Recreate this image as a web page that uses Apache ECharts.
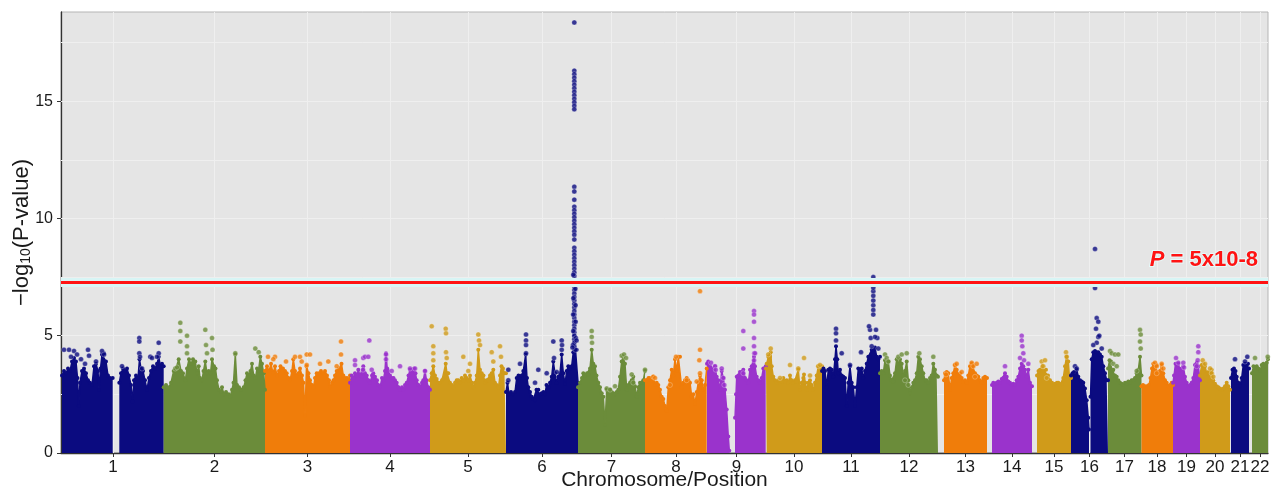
<!DOCTYPE html>
<html><head><meta charset="utf-8">
<script src="https://cdn.jsdelivr.net/npm/echarts@6/dist/echarts.min.js"></script>
<style>html,body{margin:0;padding:0;background:#fff}#c{width:1271px;height:493px}</style>
</head><body><div id="c"></div>
<script>
// Genome position unit: bins (~2.4 Mb each), cumulative along chromosomes 1..22
const chromNames = ['1','2','3','4','5','6','7','8','9','10','11','12','13','14','15','16','17','18','19','20','21','22'];
const chromStart = [1,103,204,289,369,445,517,584,646,705,761,819,883,931,976,1010,1047,1080,1112,1139,1170,1191];
const chromEnd   = [103,204,289,369,445,517,584,646,705,761,819,877,926,971,1010,1047,1080,1112,1139,1169,1188,1207];
const yTicks = [0,5,10,15];
const gridY = [2.5,5,7.5,10,12.5,15,17.5];
const threshold = 7.3; // -log10(5e-8)

// Upper envelope of the dense point cloud per chromosome ([position, -log10 P]); null separates arms
const chr1 = [[1,3.3],[3,3.5],[5,3.4],[7,3.6],[9,3.5],[11,3.9],[13,4.05],[15,3.9],[16.5,3.2],[17.7,2.0],[19,3.0],[21,3.5],[23,3.6],[25,3.4],[27,3.1],[29,3.0],[31,2.9],[33,3.7],[35,3.8],[37,3.5],[38,2.7],[39.5,3.6],[41,4.2],[43,4.25],[45,3.9],[47,3.3],[49,3.2],[51.7,3.2],
  null,[58.3,3.0],[60,3.4],[62,3.6],[64,3.5],[66,3.6],[68,3.3],[70,2.9],[71.5,2.2],[73,3.1],[75,3.3],[77,3.2],[78.5,4.0],[80,3.6],[82,3.5],[84,3.1],[86,2.7],[88,3.2],[90,3.5],[92,3.7],[94,3.6],[96,3.8],[97.7,4.1],[99.5,3.7],[101,3.8],[102.7,3.7]];
const chr2 = [[102.7,2.8],[105,2.9],[108,2.8],[110,3.0],[112.7,3.5],[115,3.6],[117.7,4.0],[120,3.5],[122,3.4],[124.3,3.1],[126,3.6],[128,4.0],[130,3.8],[132,4.0],[134.3,3.9],[136,3.4],[137.7,3.7],[139,3.2],[141,3.1],[142.5,3.5],[144.3,3.9],[146,3.4],[147.7,3.5],[149.5,3.4],[151,4.0],[153,3.7],[154.5,3.6],[156,3.1],[158,2.7],[160,2.6],[161,2.8],[163,2.5],[165,2.6],[167.7,2.5],[169.3,2.4],[171,2.7],[172.5,3.0],[174.3,4.2],[176,2.9],[178,2.8],[180,2.7],[182.7,2.8],[184.5,3.1],[186,3.4],[188,3.3],[189.5,3.5],[191,3.8],[192.7,3.3],[194.5,3.2],[196,3.6],[197.5,3.5],[199.3,4.1],[201,3.8],[202.7,3.4],[204,2.7]];
const chr3 = [[204,3.5],[206,3.7],[208,3.5],[210,3.8],[212,3.4],[214,3.7],[216,3.3],[218,3.5],[219.5,3.7],[222,3.6],[224,3.5],[225.7,3.4],[227.5,3.2],[229,3.1],[231,3.5],[232.3,4.0],[234,3.5],[235.7,3.3],[237.5,3.4],[239,3.6],[241,3.3],[242.5,3.0],[244,1.6],[245.5,3.7],[247.5,3.4],[249,3.1],[251,2.9],[252.5,2.8],[254,3.2],[255.7,3.4],[258,3.4],[260,3.5],[262,3.4],[264,3.5],[266,3.3],[268,3.1],[269,2.8],[271,3.0],[272.5,3.1],[274,3.3],[275.7,3.5],[278,3.6],[280.5,3.8],[282.3,3.3],[284,3.2],[286,3.2],[287.5,3.1],[289,3.3]];
const chr4 = [[289,3.0],[290.7,3.3],[292.5,3.2],[294,3.4],[296,3.3],[297.3,3.55],[299,3.3],[300.7,3.25],[302.3,3.7],[304,3.4],[305.7,3.3],[307.5,3.1],[309,3.0],[311,3.3],[312.3,3.4],[314,3.25],[316,3.1],[317.3,2.9],[319,2.8],[321,3.2],[322.3,3.1],[324,3.5],[325,4.25],[326.2,3.6],[327.3,3.5],[329,3.3],[330.7,3.2],[332.5,3.2],[334,3.1],[335.7,3.0],[337.5,2.8],[339,2.7],[341,2.8],[342.3,2.7],[344,2.9],[345.7,3.0],[347.5,3.3],[349,3.55],[351,3.5],[353,3.6],[354.5,3.4],[355.7,3.1],[357.5,2.9],[359,2.8],[361,3.0],[362.3,3.1],[364,3.5],[365.5,3.1],[367.3,2.8],[369,2.7]];
const chr5 = [[369,3.1],[370.7,3.4],[372.3,3.7],[374,3.3],[375.7,3.15],[377.5,3.0],[379,3.0],[381,3.1],[382.3,3.15],[384.7,3.8],[386,3.4],[387.3,3.4],[389,3.0],[391,2.9],[392.3,2.8],[394,3.0],[395.7,3.1],[397.3,3.1],[399,3.0],[400.7,3.2],[402.5,3.1],[404,3.3],[405.7,3.2],[407.5,3.1],[409,3.3],[411,3.0],[412.3,2.8],[414,3.0],[415.7,3.3],[417.3,4.4],[419,3.55],[420.7,3.4],[422.5,3.3],[424,3.0],[425.5,3.1],[427.3,3.1],[429,3.3],[430.7,3.4],[432.3,3.55],[434,3.0],[435.7,2.9],[437.5,2.8],[439,3.3],[440.5,3.7],[442,3.6],[443.5,3.4],[445,3.4]];
const chr6 = [[445,2.6],[446.5,3.0],[448,2.5],[450,2.6],[452,2.5],[454,2.6],[455.7,3.2],[457.5,3.3],[459,3.2],[460.7,3.3],[462.3,3.5],[464.7,4.2],[466,3.2],[467.3,2.8],[469,2.6],[470.7,2.4],[472.5,2.3],[474,2.25],[475.5,2.7],[477.3,2.7],[479,2.5],[480.7,2.55],[482.5,2.6],[484,2.5],[485.5,2.9],[487.3,2.8],[489,3.0],[490.7,3.25],[492.3,3.9],[494,3.4],[495.5,3.0],[497.3,3.25],[499,3.4],[500.7,4.2],[502.3,3.4],[504,2.95],[505.7,3.5],[507.3,3.7],[509,3.6],[510.7,3.7],[512.3,4.3],[513.3,5.0],[514.5,4.4],[515.7,4.4],[517,3.0]];
const chr7 = [[517,2.8],[519,3.0],[521,3.2],[522.3,3.4],[524,3.3],[526,3.4],[527.3,3.35],[529,3.6],[530.7,4.4],[532.3,3.8],[534,3.7],[535.5,3.3],[537.3,3.0],[539,2.8],[540.7,2.55],[542.3,2.4],[544,1.2],[545.7,2.7],[547.5,2.7],[549,2.7],[550.7,2.6],[552.3,2.55],[554,2.5],[555.7,2.6],[557.3,2.7],[559,3.25],[560.7,3.9],[562.3,4.1],[564,3.8],[565.7,2.7],[567.3,2.9],[569,3.0],[570.7,3.1],[572.3,3.25],[574,2.85],[575.7,2.4],[577.3,2.8],[579,3.0],[580.7,3.0],[582.3,3.1],[584,3.5]];
const chr8 = [[584,3.1],[585.7,3.1],[587.5,3.2],[589,3.2],[590.7,3.1],[592.3,3.25],[594,2.9],[595.7,3.0],[597.3,2.9],[599,2.7],[600.7,2.4],[602.3,2.3],[604,2.0],[605.7,1.8],[607.3,2.8],[609,3.1],[610.7,3.55],[612.3,3.3],[614,4.0],[615.7,3.5],[617.3,4.1],[619,4.1],[620.7,2.8],[622.3,3.0],[624,3.1],[625.7,3.2],[627.3,3.1],[629,3.0],[630.7,2.4],[632.3,2.5],[634,2.1],[635.7,2.6],[637.3,3.0],[639,3.3],[640.7,3.1],[642.3,2.7],[644,2.9],[645.7,3.6]];
const chr9 = [[646,3.8],[647.3,3.9],[649,3.7],[650.7,3.6],[652.3,3.55],[654,3.7],[655.7,3.25],[657.3,3.1],[659,2.7],[660.7,3.5],[662.3,3.2],[664,2.7],[665.7,1.85],[667.3,0.7],[668.3,0.1],
  null,[674,1.5],[675,2.5],[675.7,3.25],[677.3,3.3],[679,3.45],[680.7,3.4],[682.3,3.55],[684,3.2],[685.7,3.1],[687.3,3.0],[689,3.55],[690.7,3.7],[692.3,3.7],[693,4.1],[694,3.7],[695.7,3.25],[697.3,3.1],[699,3.0],[700.7,3.2],[702.3,3.6],[704.7,3.7]];
const chr10 = [[705,3.6],[705.7,3.8],[707.3,4.1],[709,4.1],[709.7,4.3],[710.7,3.7],[712.3,3.25],[714,3.1],[715.7,3.0],[717.3,3.1],[719,3.1],[720.7,3.05],[722.3,3.2],[724,3.05],[725.7,3.1],[727.3,3.0],[729,3.3],[730.7,3.1],[732.3,3.0],[734,3.1],[735.7,3.05],[737.3,3.55],[739,2.7],[740.7,3.0],[742.3,3.2],[743,3.35],[744.3,3.0],[745.7,2.7],[747.3,3.0],[749,3.1],[750.7,2.9],[752.3,2.7],[754,3.0],[755.7,3.3],[757.3,3.7],[759,3.6],[761,3.7]];
const chr11 = [[761,3.5],[762.5,3.6],[764,3.5],[765.7,2.8],[767.3,3.55],[769,3.6],[770.7,3.55],[772.3,3.25],[774,4.0],[775,4.55],[776.3,4.0],[777.3,3.4],[779,3.55],[780.7,3.3],[782.3,3.25],[784,3.2],[785.7,2.0],[787.3,3.0],[789,3.7],[790.7,3.0],[792.3,2.8],[794,2.0],[795.7,2.8],[797.3,3.6],[799,3.5],[800.7,3.6],[802.3,3.2],[804,3.5],[805.7,3.8],[807.3,4.1],[809,4.1],[810.7,4.4],[812.3,4.4],[814,4.5],[815.7,4.1],[817.3,4.0],[819,4.1]];
const chr12 = [[819,3.4],[820.7,3.5],[822.3,3.4],[824,3.95],[825.7,3.7],[827.3,3.9],[829,3.3],[830.7,3.1],[832.3,3.05],[834,3.4],[835.7,4.0],[837.3,3.8],[839,4.0],[840.7,3.8],[842.3,3.3],[844,3.5],[845.7,3.9],[847.3,3.1],[849,2.55],[850.7,2.8],[852.3,3.0],[854,3.1],[855.7,3.4],[857.3,4.1],[859,4.0],[860.7,3.7],[862.3,3.4],[864,3.1],[865.7,3.1],[867.3,3.0],[869,3.2],[870.7,3.3],[872.3,3.8],[874,3.55],[875.7,3.3],[877,3.25]];
const chr13 = [[883,3.1],[884,3.4],[885.7,3.45],[887.3,3.4],[889,2.7],[890.7,3.2],[892.3,3.4],[894,3.75],[895.7,3.55],[897.3,3.3],[899,3.4],[900.7,3.2],[902.3,3.05],[904,3.1],[905.7,3.0],[907.3,3.3],[909,3.7],[910.7,3.8],[912.3,3.75],[914,3.4],[915.7,3.3],[917.3,3.25],[919,3.1],[920.7,3.0],[922.3,3.2],[924,3.25],[926,3.2]];
const chr14 = [[931,2.9],[932.3,3.0],[934,2.95],[935.7,3.0],[937.3,3.05],[939,3.0],[940.7,3.15],[942.3,3.2],[944,3.4],[945.7,3.25],[947.3,3.05],[949,3.0],[950.7,2.9],[952.3,2.95],[954,2.9],[955.7,3.1],[957.3,3.25],[959,3.6],[960.7,3.8],[962.3,3.7],[964,3.55],[965.7,3.25],[967.3,3.55],[969,3.0],[971,2.85]];
const chr15 = [[976,3.3],[977.5,3.5],[979,3.55],[981,3.6],[983,3.5],[985,3.55],[987,3.3],[989,3.1],[991,3.0],[993,2.9],[994,2.95],[996,3.0],[997.3,3.0],[999,2.9],[1000.7,2.95],[1002.3,3.2],[1004,3.7],[1005.5,4.1],[1007.3,3.9],[1008.3,3.3],[1010,3.2]];
const chr16 = [[1010,3.3],[1011.5,3.4],[1013,3.45],[1014.5,3.3],[1015.7,3.55],[1017.3,3.25],[1019,3.1],[1020.7,3.05],[1022.3,3.0],[1024,2.75],[1025.7,2.25],[1027.3,1.5],[1028,1.0],
  null,[1029.5,2.4],[1030.7,4.0],[1032.3,4.3],[1034,4.35],[1035.7,4.3],[1037.3,4.3],[1039,4.2],[1040.7,4.1],[1042.3,3.7],[1044,3.4],[1045.7,3.1],[1047,3.1]];
const chr17 = [[1047,3.6],[1048.5,3.95],[1050,3.9],[1051.5,3.5],[1052.3,3.55],[1054,3.3],[1055.7,3.25],[1057.3,3.1],[1059,3.0],[1060.7,2.95],[1062.3,2.9],[1064,3.0],[1065.7,2.95],[1067.3,3.05],[1069,3.0],[1070.7,3.1],[1072.3,3.1],[1074,3.2],[1075.7,3.4],[1077.3,3.55],[1079,4.1],[1080.5,3.3]];
const chr18 = [[1080.5,2.85],[1082,2.9],[1084,2.85],[1086,2.85],[1088,2.9],[1089.5,3.2],[1091,3.6],[1092.3,3.8],[1094,3.7],[1095.7,3.75],[1097.3,3.4],[1099,3.5],[1100.7,3.75],[1102.3,3.4],[1104,3.1],[1105.7,3.0],[1107.3,2.85],[1109,2.9],[1110.7,3.0],[1112,2.9]];
const chr19 = [[1112,3.0],[1113,3.3],[1114.5,3.8],[1116,3.75],[1117.3,3.8],[1119,3.55],[1120.7,3.6],[1122.3,3.7],[1124,3.25],[1125.7,3.0],[1127.3,2.85],[1129,2.9],[1130.7,3.0],[1132.3,3.2],[1134,3.75],[1135.7,3.85],[1137.3,3.7],[1139,3.1]];
const chr20 = [[1139,3.3],[1140.7,3.75],[1142.3,3.8],[1144,3.7],[1145.7,3.4],[1147.3,3.45],[1149,3.4],[1150.7,3.55],[1152.3,3.1],[1154,2.95],[1155.7,2.85],[1157.3,2.8],[1159,2.75],[1160.7,2.7],[1162.3,2.75],[1164,2.85],[1165.7,3.0],[1167.3,2.85],[1169,2.7]];
const chr21 = [[1170,3.2],[1171.5,3.55],[1173,3.6],[1174.5,3.5],[1175.7,3.25],[1177.3,3.0],[1179,2.85],[1180.7,3.2],[1182.3,3.75],[1184,3.8],[1185.7,3.75],[1187,3.8],[1188,3.6]];
const chr22 = [[1191,3.4],[1192.5,3.7],[1194,3.65],[1195.7,3.7],[1197.3,3.6],[1199,3.5],[1200.7,3.75],[1202.3,3.8],[1204,3.7],[1205.7,3.85],[1207,4.0]];

// Individual SNPs standing out above the cloud
const dots1 = [[3,4.4],[8,4.4],[13,4.35],[16,4.2],[27,4.4],[28,4.15],[41,4.35],[43,4.2],[10,4.1],[24,3.8],[20,4.0],[35,3.9],
  [78.3,4.9],[78.3,4.75],[78.3,4.25],[79,4.1],[89.3,4.1],[91,4.05],[97.7,4.7],[97.7,4.25],[96,4.1],[61,3.7],[81,3.6]];
const dots2 = [[119.3,5.55],[119.3,5.2],[119.3,4.75],[126,5.0],[126,4.55],[126,4.25],[144.3,5.25],[145,4.6],[146,4.25],[151,4.9],[151.5,4.4],[194.3,4.45],[197.7,4.3],[114.3,3.6],[116,3.65],[174.3,4.25]];
const dots3 = [[234,4.1],[239,4.1],[245.7,4.2],[245.7,3.75],[267.3,3.9],[280,4.75],[280,4.2],[275.7,3.7],[240.7,3.9],[207,4.1],[214,4.1],[212.3,4.0],[249,4.2],[225,3.9],[259,3.8]];
const dots4 = [[294,3.95],[302.3,4.05],[304,4.1],[307.3,4.1],[308.3,4.8],[302,3.55],[310.7,3.55],[325,4.2],[325,4.0],[330.7,3.5],[339,3.7],[349,3.6],[354,3.6],[364,3.5],[294,3.75]];
const dots5 = [[370.7,5.4],[372.3,4.55],[372.3,4.25],[372.3,3.95],[384.7,5.3],[385,5.1],[385.7,4.05],[385,4.3],[402.3,4.1],[409,3.8],[417.3,5.05],[418,4.8],[419,4.6],[430.7,4.3],[407.3,3.5],[432.3,3.9],[439,4.55],[440,4.1]];
const dots6 = [[447.3,3.55],[447.3,3.1],[459,3.8],[465,5.05],[465,4.8],[465,4.6],[465,4.25],[477.3,3.55],[485.7,3.4],[492.3,4.75],[493,4.05],[500.7,4.8],[500.7,4.4],[501,4.6],[495.7,3.45],[474,3.0]];
const chr6Peak = [[513.3,18.35],
  [513.3,16.3],[513.3,16.15],[513.3,16.0],[513.3,15.85],[513.3,15.7],[513.3,15.55],[513.3,15.4],[513.3,15.25],[513.3,15.1],[513.3,14.95],[513.3,14.8],[513.3,14.65],
  [513.3,11.35],[513.3,11.15],[513.3,10.8],[513.3,10.5],[513.3,10.35],[513.3,10.2],[513.3,10.05],[513.3,9.9],[513.3,9.75],[513.3,9.6],[513.3,9.45],[513.3,9.3],[513.3,9.1],
  [513.3,8.75],[513.3,8.6],[513.3,8.45],[513.3,8.3],[513.3,8.15],[513.3,8.0],[513.3,7.85],[513.3,7.7],[513.3,7.55],[513.3,7.4],[513.3,7.25],[513.3,7.1],[513.3,6.95],[513.3,6.8],[513.3,6.65],[513.3,6.5],[513.3,6.35],[513.3,6.2],[513.3,6.05],[513.3,5.9],[513.3,5.75],[513.3,5.6],[513.3,5.45],[513.3,5.3],[513.3,5.15],[513.3,5.0],[513.3,4.85],[513.3,4.7],[513.3,4.55],
  [512.3,7.6],[514.3,7.0],[512.4,6.6],[514.5,6.3],[512.2,5.9],[514.6,5.6],[512.3,5.2],[514.8,4.9],[512.0,4.6],[514.5,4.4],[515.5,4.8],[511.5,4.5]];
const dots7 = [[530.7,5.2],[530.7,4.95],[531,4.7],[545.7,2.75],[549,2.7],[554,2.85],[560.7,4.15],[563,4.2],[565,4.05],[570.7,3.35],[572.3,3.0],[584,3.55]];
const dots8 = [[639,6.9],[639,4.4],[638.3,3.95],[639,3.4],[615,4.1],[592.3,3.25],[594,3.2],[609,2.9],[625.7,3.1],[635.7,3.05]];
const dots9 = [[650,3.85],[654,3.7],[654.7,3.55],[660.7,3.6],[662.3,3.2],[663.3,2.9],[682.3,5.2],[682.3,4.45],[693,6.05],[693,5.9],[693,5.6],[693,4.9],[693,4.55],[693.3,4.25],[693,3.95],[694,4.25],[682.3,3.4]];
const dots10 = [[709.7,4.45],[729,3.75],[737.3,3.6],[743,4.05],[749,3.3],[757.3,3.7],[759,3.75],[719,3.2],[707.3,4.2]];
const dots11 = [[775,5.3],[775,5.1],[775,4.8],[780.7,4.25],[789,3.75],[800,4.3],[809,5.25],[809.7,4.9],[810.7,4.55],[812.3,5.9],[812.3,6.1],[812.3,6.3],[812.3,6.5],[812.3,6.7],[812.3,6.9],[812.3,7.05],[812.3,7.5],[815,5.25],[816.3,4.9],[817.3,4.45],[814,4.95],[808,5.4]];
const dots12 = [[824,4.2],[825.7,4.05],[827.3,3.9],[837.3,4.1],[840.7,4.2],[845.7,4.25],[858.3,4.25],[872.3,4.1],[844,3.1],[847.3,2.9]];
const dots13 = [[885,3.35],[894,3.75],[895.7,3.8],[900.7,3.45],[910.7,3.85],[912.3,3.7],[915.7,3.8],[914,3.25]];
const dots14 = [[944,3.7],[960.7,5.0],[960.7,4.8],[961.3,4.55],[962.3,4.25],[963,3.95],[967.3,3.8],[959,4.05]];
const dots15 = [[980.7,3.9],[984,3.95],[982.3,3.7],[1005,4.3],[1005.7,4.1],[981.7,3.7],[985.7,3.2]];
const dots16 = [[1034,8.7],[1034,7.03],[1035.7,5.75],[1037.3,5.6],[1035,5.3],[1037.3,4.95],[1035.7,4.7],[1032.3,4.6],[1038.3,5.0],[1040.7,4.45],[1014,3.7],[1015.7,3.6]];
const dots17 = [[1049,4.35],[1050.7,4.25],[1054,4.2],[1057.3,4.2],[1052.3,3.8],[1055.7,3.7],[1079,5.25],[1079.7,5.05],[1079,4.75],[1079.7,4.45],[1075.7,3.5]];
const dots18 = [[1094,3.85],[1095.7,3.7],[1100.7,3.8],[1102.3,3.6],[1095.7,3.4]];
const dots19 = [[1115,4.05],[1117.3,3.85],[1122.3,3.85],[1123,3.65],[1137.3,4.55],[1137.3,4.3],[1136.7,3.95],[1135.7,3.7]];
const dots20 = [[1141.7,3.95],[1144,3.8],[1149,3.6],[1150.7,3.4],[1152.3,3.25]];
const dots21 = [[1174,4.0],[1186.3,4.1],[1184,3.9]];
const dots22 = [[1194,4.05],[1206.7,4.1]];

const palette = ['#0b0b80','#6b8c3a','#f07d0a','#9a33cc','#d09b1a'];
const envs = [chr1,chr2,chr3,chr4,chr5,chr6,chr7,chr8,chr9,chr10,chr11,chr12,chr13,chr14,chr15,chr16,chr17,chr18,chr19,chr20,chr21,chr22];
const dotSets = [dots1,dots2,dots3,dots4,dots5,dots6.concat(chr6Peak),dots7,dots8,dots9,dots10,dots11,dots12,dots13,dots14,dots15,dots16,dots17,dots18,dots19,dots20,dots21,dots22];
const mids = chromStart.map((s,i)=> (s+chromEnd[i])/2);
const X_MAX = 1207, Y_MAX = 18.8;

function splitArms(arr){ const arms=[[]]; arr.forEach(p=>{ if(p===null) arms.push([]); else arms[arms.length-1].push(p); }); return arms; }

const FONT = '"Liberation Sans", Arial, Helvetica, sans-serif';
const series = [];
// faint panel grid lines, drawn beneath the data
series.push({ type:'lines', coordinateSystem:'cartesian2d', z:1, silent:true, animation:false, polyline:false,
  lineStyle:{ color:'#efefef', width:1, opacity:1, curveness:0 },
  data:[...gridY.map(v=>({coords:[[0,v],[X_MAX,v]]})), ...mids.map(v=>({coords:[[v,0],[v,Y_MAX]]}))] });
envs.forEach((arr,i)=>{
  const col = palette[i%5];
  splitArms(arr).forEach(arm=>{
    series.push({ type:'line', data:arm, z:3, silent:true, animation:false,
      symbol:'circle', symbolSize:4, showSymbol:true, showAllSymbol:true,
      lineStyle:{color:col, width:1.5}, itemStyle:{color:col},
      areaStyle:{color:col, opacity:1} });
  });
});
dotSets.forEach((arr,i)=>{
  series.push({ type:'scatter', data:arr, z:4, silent:true, animation:false, symbolSize:5,
    itemStyle:{color:palette[i%5], borderColor:'rgba(255,255,255,0.55)', borderWidth:0.6} });
});
series.push({ type:'line', data:[], z:10, silent:true,
  markLine:{ silent:true, z:10, symbol:'none', animation:false, label:{show:false},
    data:[ {yAxis:threshold, lineStyle:{color:'#d8f5f5', width:9, type:'solid'}},
           {yAxis:threshold, lineStyle:{color:'#ff1414', width:3, type:'solid'}} ] } });

const chart = echarts.init(document.getElementById('c'));
chart.setOption({
  animation:false,
  backgroundColor:'#ffffff',
  grid:{ left:61, right:3, top:12, bottom:40, show:true, backgroundColor:'#e5e5e5', borderColor:'#b5b5b5', borderWidth:1, containLabel:false, outerBoundsMode:'none' },
  xAxis:{ type:'value', min:0, max:X_MAX,
    name:'Chromosome/Position', nameLocation:'middle', nameGap:17, nameMoveOverlap:false,
    nameTextStyle:{ fontSize:21, color:'#1a1a1a', fontFamily:FONT },
    axisLine:{ show:true, onZero:false, lineStyle:{ color:'#333', width:1.3 } },
    axisTick:{ show:true, length:4, lineStyle:{ color:'#333' }, customValues: mids },
    axisLabel:{ show:true, margin:6, fontSize:17, color:'#1a1a1a', fontFamily:FONT, customValues: mids,
      formatter:(v)=>{ let k=0, d=1e9; mids.forEach((m,i)=>{ if(Math.abs(m-v)<d){d=Math.abs(m-v);k=i;} }); return chromNames[k]; } },
    splitLine:{ show:false }
  },
  yAxis:{ type:'value', min:0, max:Y_MAX,
    name:'−log{s|10}(P-value)', nameLocation:'middle', nameGap:28, nameRotate:90, nameMoveOverlap:false,
    nameTextStyle:{ fontSize:22, color:'#1a1a1a', fontFamily:FONT,
      rich:{ s:{ fontSize:14, color:'#1a1a1a', fontFamily:FONT, verticalAlign:'bottom', lineHeight:22 } } },
    axisLine:{ show:true, lineStyle:{ color:'#333', width:1.3 } },
    axisTick:{ show:true, length:4, lineStyle:{ color:'#333' }, customValues: yTicks },
    axisLabel:{ show:true, margin:8, fontSize:16, color:'#1a1a1a', fontFamily:FONT, customValues: yTicks },
    splitLine:{ show:false }
  },
  graphic:[{ type:'text', right:12, top:248, z:100, silent:true,
    style:{ text:'{i|P} = 5x10-8', font:'bold 22px '+FONT, fill:'#ff1414', stroke:'#e6fafa', lineWidth:2,
      rich:{ i:{ fontStyle:'italic', fontWeight:'bold', fontSize:22, fontFamily:FONT, fill:'#ff1414', stroke:'#e6fafa', lineWidth:2 } } } }],
  series: series
});
</script></body></html>
